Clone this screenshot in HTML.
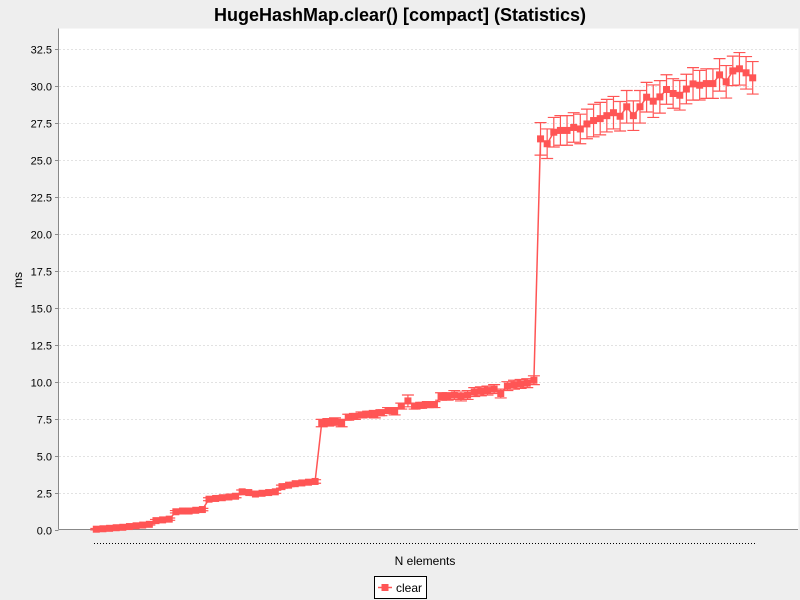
<!DOCTYPE html>
<html><head><meta charset="utf-8"><style>
body{margin:0;background:#eeeeee;font-family:"Liberation Sans",sans-serif;}
svg{display:block}
</style></head><body>
<svg id="c" width="800" height="600" xmlns="http://www.w3.org/2000/svg">
<rect x="0" y="0" width="800" height="600" fill="#eeeeee"/>
<text x="400" y="21" text-anchor="middle" font-size="18" font-weight="bold" fill="#000">HugeHashMap.clear() [compact] (Statistics)</text>
<rect x="58.5" y="28.5" width="740" height="501" fill="#ffffff"/>
<g id="grid"></g>
<g id="yaxis"></g>
<line x1="58.5" y1="28.5" x2="58.5" y2="529.5" stroke="#888"/>
<line x1="58.5" y1="529.5" x2="798" y2="529.5" stroke="#888"/>
<line x1="94" y1="543.5" x2="757" y2="543.5" stroke="#000" stroke-dasharray="1,2"/>
<text x="425" y="565" text-anchor="middle" font-size="12" fill="#000">N elements</text>
<text transform="translate(22,280) rotate(-90)" text-anchor="middle" font-size="12" fill="#000">ms</text>
<g id="series"></g>
<g>
<rect x="374.5" y="576.5" width="52" height="22" fill="#fff" stroke="#000"/>
<line x1="378" y1="587.5" x2="392" y2="587.5" stroke="#ff5555" stroke-width="1.5"/>
<rect x="381.5" y="584" width="7" height="7" fill="#ff5555"/>
<text x="396" y="592" font-size="12" fill="#000">clear</text>
</g>
</svg>
<script>
const values=[0.02,0.05,0.08,0.12,0.15,0.2,0.25,0.3,0.35,
0.6,0.65,0.7,
1.2,1.25,1.25,1.3,1.35,
2.05,2.1,2.15,2.2,2.25,
2.55,2.5,2.4,2.45,2.5,2.55,
2.9,3.0,3.1,3.15,3.2,3.25,
7.2,7.25,7.3,7.2,
7.6,7.65,7.75,7.8,7.8,7.9,8.05,8.0,8.35,8.7,
8.35,8.4,8.45,8.45,
9.0,9.0,9.1,9.0,9.1,9.3,9.35,9.4,9.5,9.2,9.7,9.8,9.85,9.9,10.1,
26.43,26.1,26.88,27.0,27.0,27.2,27.1,27.44,27.67,27.8,28.0,28.2,27.96,28.6,28.0,28.6,29.25,28.98,29.27,29.77,29.5,29.38,29.8,30.15,30.06,30.17,30.17,30.76,30.29,31.03,31.17,30.9,30.56];
const errors=[0.05,0.05,0.05,0.05,0.05,0.05,0.05,0.05,0.05,
0.08,0.08,0.08,
0.08,0.08,0.08,0.08,0.08,
0.1,0.1,0.1,0.1,0.1,
0.12,0.1,0.1,0.1,0.1,0.1,
0.1,0.1,0.1,0.1,0.1,0.12,
0.25,0.25,0.25,0.25,
0.2,0.2,0.2,0.2,0.25,0.2,0.2,0.25,0.2,0.4,
0.2,0.2,0.2,0.2,
0.25,0.25,0.3,0.3,0.3,0.3,0.3,0.3,0.3,0.3,0.3,0.3,0.3,0.3,0.3,
1.1,1.0,1.0,1.0,1.0,1.0,1.0,1.0,1.1,1.1,1.1,1.1,1.0,1.1,1.0,1.1,1.0,1.1,1.1,1.0,1.0,1.0,1.0,1.1,1.0,1.0,1.0,1.1,1.1,1.0,1.1,1.1,1.1];
const yTicks=[0,2.5,5,7.5,10,12.5,15,17.5,20,22.5,25,27.5,30,32.5];
const yTickLabels=["0.0","2.5","5.0","7.5","10.0","12.5","15.0","17.5","20.0","22.5","25.0","27.5","30.0","32.5"];
const NS="http://www.w3.org/2000/svg";
const X0=96.3,X1=752.7;
function xs(i){return X0+(X1-X0)*i/(values.length-1);}
function ys(v){return 529.5-v*14.78;}
function mk(tag,attrs,parent){const e=document.createElementNS(NS,tag);for(const k in attrs)e.setAttribute(k,attrs[k]);parent.appendChild(e);return e;}
const grid=document.getElementById('grid'),yax=document.getElementById('yaxis'),ser=document.getElementById('series');
yTicks.forEach((t,i)=>{
 const y=Math.round(ys(t))+0.5;
 if(t>0){const g=mk('line',{x1:59,x2:798,y1:y,y2:y,stroke:'#e2e2e2','stroke-dasharray':'2,2'},grid);
 
 }
 const tk=mk('line',{x1:55,x2:58.5,y1:y,y2:y,stroke:'#888'},yax);
 
 
 const tx=mk('text',{x:52,y:y+4,'text-anchor':'end','font-size':11,fill:'#000'},yax);
 tx.textContent=yTickLabels[i];
 
 
});
let pts=values.map((v,i)=>xs(i).toFixed(1)+','+ys(v).toFixed(1)).join(' ');
const pl=mk('polyline',{points:pts,fill:'none',stroke:'#ff5555','stroke-width':1.5},ser);


values.forEach((v,i)=>{
 const x=xs(i),e=errors[i];
 const ya=ys(v+e),yb=ys(v-e);
 const g=mk('path',{d:`M${x},${ya}V${yb}M${x-6},${ya}H${x+6}M${x-6},${yb}H${x+6}`,stroke:'#ff5555','stroke-width':1.2,fill:'none'},ser);
 
 
 const r=mk('rect',{x:x-3.5,y:ys(v)-3.5,width:7,height:7,fill:'#ff5555'},ser);
 
 
});
</script>
</body></html>
